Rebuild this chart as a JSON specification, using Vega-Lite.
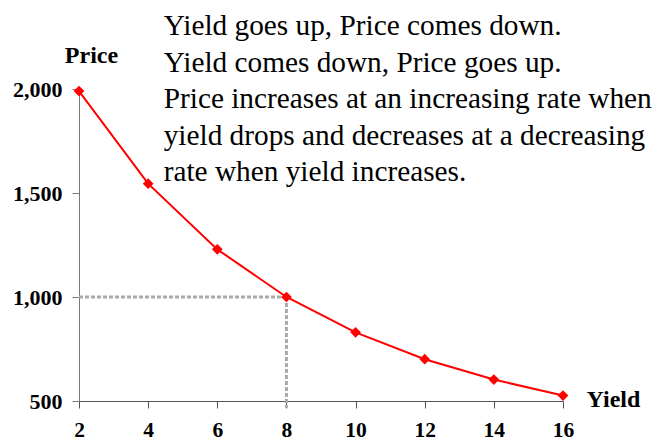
{
  "$schema": "https://vega.github.io/schema/vega-lite/v6.json",
  "width": 484,
  "height": 312,
  "autosize": {"type": "none"},
  "padding": {"left": 79, "top": 89, "right": 100, "bottom": 40},
  "background": "white",
  "config": {"view": {"stroke": null}, "font": "Liberation Serif"},
  "datasets": {
    "bond": [
      {"yield": 2, "price": 1990},
      {"yield": 4, "price": 1545},
      {"yield": 6, "price": 1229},
      {"yield": 8, "price": 1000},
      {"yield": 10, "price": 830},
      {"yield": 12, "price": 701},
      {"yield": 14, "price": 603},
      {"yield": 16, "price": 526}
    ],
    "hguide": [{"yield": 2, "yield2": 8, "price": 1000}],
    "vguide": [{"yield": 8, "price": 1000, "price2": 467}],
    "note": [{"yield": 4.45, "price": 2260, "text": "Yield goes up, Price comes down.\nYield comes down, Price goes up.\nPrice increases at an increasing rate when\nyield drops and decreases at a decreasing\nrate when yield increases."}]
  },
  "layer": [
    {
      "data": {"name": "hguide"},
      "mark": {"type": "rule", "color": "#aaaaaa", "strokeWidth": 3, "strokeDash": [4, 2]},
      "encoding": {
        "x": {"field": "yield", "type": "quantitative", "scale": {"domain": [2, 16], "nice": false, "zero": false},
          "axis": {"values": [2, 4, 6, 8, 10, 12, 14, 16], "title": "Yield", "grid": false, "domainColor": "#555555", "tickColor": "#555555", "tickSize": 7, "labelFont": "Liberation Serif", "labelFontWeight": "bold", "labelFontSize": 21.5, "labelColor": "black", "labelPadding": 11, "labelFlush": false,
            "titleFont": "Liberation Serif", "titleFontWeight": "bold", "titleFontSize": 24, "titleColor": "black", "titleAngle": 0, "titleX": 534, "titleY": 5, "titleAlign": "center", "titleBaseline": "alphabetic"}},
        "x2": {"field": "yield2"},
        "y": {"field": "price", "type": "quantitative", "scale": {"domain": [500, 2000], "nice": false, "zero": false},
          "axis": {"values": [500, 1000, 1500, 2000], "format": ",.0f", "title": "Price", "grid": false, "domainColor": "#777777", "tickColor": "#777777", "tickSize": 7, "labelFont": "Liberation Serif", "labelFontWeight": "bold", "labelFontSize": 22, "labelColor": "black", "labelPadding": 10, "labelFlush": false,
            "titleFont": "Liberation Serif", "titleFontWeight": "bold", "titleFontSize": 24, "titleColor": "black", "titleAngle": 0, "titleX": 12, "titleY": -27, "titleAlign": "center", "titleBaseline": "alphabetic"}}
      }
    },
    {
      "data": {"name": "vguide"},
      "mark": {"type": "rule", "color": "#aaaaaa", "strokeWidth": 3, "strokeDash": [4, 2]},
      "encoding": {
        "x": {"field": "yield", "type": "quantitative"},
        "y": {"field": "price", "type": "quantitative"},
        "y2": {"field": "price2"}
      }
    },
    {
      "data": {"name": "bond"},
      "mark": {"type": "line", "color": "#ff0000", "strokeWidth": 2, "point": {"shape": "diamond", "size": 115, "filled": true, "color": "#ff0000"}},
      "encoding": {
        "x": {"field": "yield", "type": "quantitative"},
        "y": {"field": "price", "type": "quantitative"}
      }
    },
    {
      "data": {"name": "note"},
      "mark": {"type": "text", "align": "left", "baseline": "alphabetic", "font": "Liberation Serif", "fontSize": 29.3, "lineHeight": 36.6, "lineBreak": "\n", "color": "black"},
      "encoding": {
        "x": {"field": "yield", "type": "quantitative"},
        "y": {"field": "price", "type": "quantitative"},
        "text": {"field": "text"}
      }
    }
  ]
}
